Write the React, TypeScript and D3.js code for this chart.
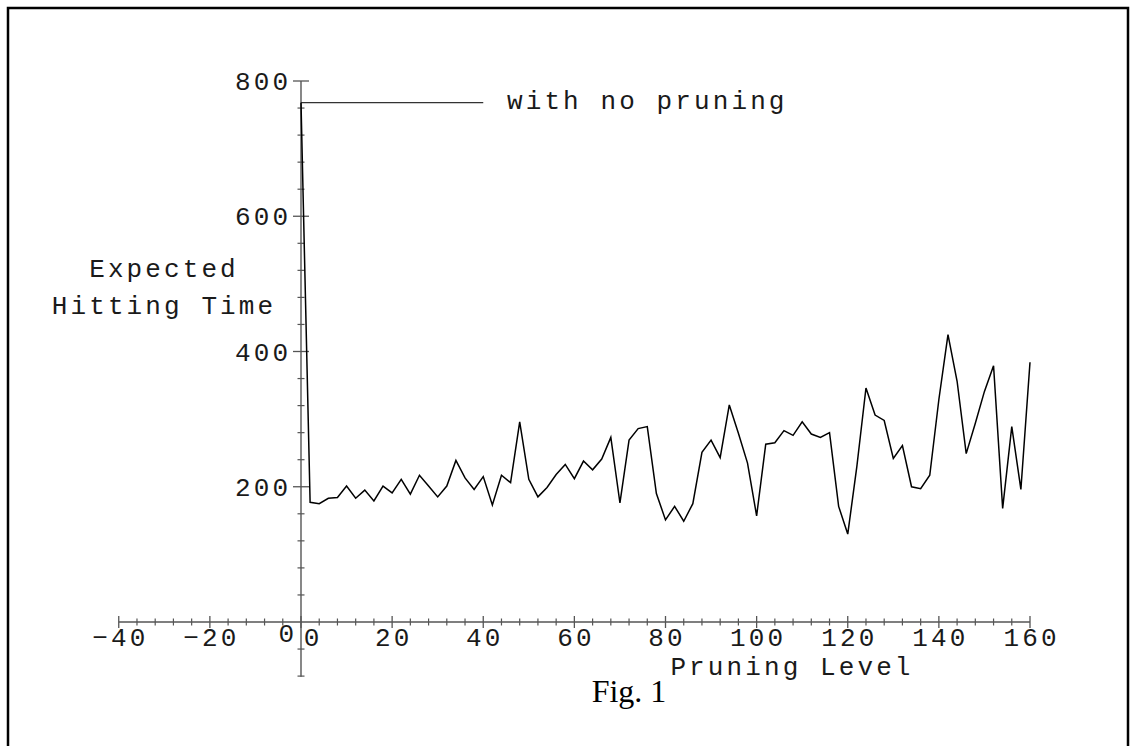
import React from "react";
import * as d3 from "d3";

const pruningLevel = [
  0, 2, 4, 6, 8, 10, 12, 14, 16, 18, 20, 22, 24, 26, 28, 30, 32, 34, 36, 38,
  40, 42, 44, 46, 48, 50, 52, 54, 56, 58, 60, 62, 64, 66, 68, 70, 72, 74, 76, 78,
  80, 82, 84, 86, 88, 90, 92, 94, 96, 98, 100, 102, 104, 106, 108, 110, 112, 114, 116, 118,
  120, 122, 124, 126, 128, 130, 132, 134, 136, 138, 140, 142, 144, 146, 148, 150, 152, 154, 156, 158, 160,
];
const hittingTime = [
  768, 177, 175, 183, 184, 201, 183, 195, 179, 201, 191, 211, 189, 217, 201, 185, 201, 239, 213, 196,
  215, 173, 217, 206, 296, 211, 185, 199, 218, 233, 212, 238, 225, 241, 273, 176, 269, 286, 289, 190,
  151, 171, 149, 175, 251, 269, 243, 321, 279, 235, 157, 263, 265, 283, 276, 296, 278, 273, 280, 171,
  130, 230, 346, 306, 298, 242, 261, 200, 197, 217, 329, 425, 356, 249, 294, 341, 379, 168, 289, 196, 384,
];
const xTickLabels = ["−40", "−20", "0", "20", "40", "60", "80", "100", "120", "140", "160"];
const xTickValues = [-40, -20, 0, 20, 40, 60, 80, 100, 120, 140, 160];
const yTickLabels = ["200", "400", "600", "800"];
const yTickValues = [200, 400, 600, 800];
const annotationText = "with no pruning";
const annotationValue = 768;
const annotationEnd = 40;

export default function App() {
  const W = 1136, H = 746;
  const x = d3.scaleLinear().domain([0, 160]).range([301, 1030]);
  const y = d3.scaleLinear().domain([0, 800]).range([622, 81]);
  const axisColor = "#555";
  const mono = "'Liberation Mono', 'DejaVu Sans Mono', monospace";
  const fontSize = 26;
  const ls = 3.1;
  const textColor = "#1a1a1a";

  const line = d3
    .line<number>()
    .x((_, i) => x(pruningLevel[i]))
    .y((d) => y(d));

  const xMinor = d3.range(-40, 161, 4).filter((v) => v % 20 !== 0);
  const yMinor = d3.range(-80, 801, 40).filter((v) => v % 200 !== 0 || v < 0);

  return (
    <svg
      width={W}
      height={H}
      style={{ position: "absolute", left: 0, top: 0, background: "#fff" }}
    >
      <rect x={0} y={0} width={W} height={H} fill="#fff" />
      <path
        d={`M8,${H + 5} L8,8 L1128,8 L1128,${H + 5}`}
        fill="none"
        stroke="#000"
        strokeWidth={2.5}
      />
      {/* axes */}
      <line x1={x(-40)} x2={x(160)} y1={y(0)} y2={y(0)} stroke={axisColor} strokeWidth={1.4} />
      <line x1={x(0)} x2={x(0)} y1={y(-81)} y2={y(800)} stroke={axisColor} strokeWidth={1.4} />
      {xTickValues.map((v) => (
        <line key={"xM" + v} x1={x(v)} x2={x(v)} y1={y(0) - 6} y2={y(0) + 6} stroke={axisColor} strokeWidth={1.3} />
      ))}
      {xMinor.map((v) => (
        <line key={"xm" + v} x1={x(v)} x2={x(v)} y1={y(0) - 3.5} y2={y(0) + 3.5} stroke={axisColor} strokeWidth={1.2} />
      ))}
      {yTickValues.map((v) => (
        <line key={"yM" + v} x1={x(0) - 8} x2={x(0) + 8} y1={y(v)} y2={y(v)} stroke={axisColor} strokeWidth={1.3} />
      ))}
      {yMinor.map((v) => (
        <line key={"ym" + v} x1={x(0) - 3.5} x2={x(0) + 3.5} y1={y(v)} y2={y(v)} stroke={axisColor} strokeWidth={1.2} />
      ))}
      {/* tick labels */}
      {xTickValues.map((v, i) => (
        <text
          key={"xl" + v}
          x={v === 0 ? x(v) + 12 : x(v) + ls / 2}
          y={y(0) + 24}
          textAnchor="middle"
          fontFamily={mono}
          fontSize={fontSize}
          letterSpacing={ls}
          fill={textColor}
        >
          {xTickLabels[i]}
        </text>
      ))}
      <text x={x(0) - 7} y={y(0) + 20} textAnchor="end" fontFamily={mono} fontSize={fontSize} fill={textColor}>
        0
      </text>
      {yTickValues.map((v, i) => (
        <text
          key={"yl" + v}
          x={288 + ls}
          y={y(v) + 9}
          textAnchor="end"
          fontFamily={mono}
          fontSize={fontSize}
          letterSpacing={ls}
          fill={textColor}
        >
          {yTickLabels[i]}
        </text>
      ))}
      {/* axis titles */}
      <text x={164} y={277} textAnchor="middle" fontFamily={mono} fontSize={fontSize} letterSpacing={ls} fill={textColor}>
        Expected
      </text>
      <text x={164} y={314} textAnchor="middle" fontFamily={mono} fontSize={fontSize} letterSpacing={ls} fill={textColor}>
        Hitting Time
      </text>
      <text x={792} y={675} textAnchor="middle" fontFamily={mono} fontSize={fontSize} letterSpacing={ls} fill={textColor}>
        Pruning Level
      </text>
      {/* annotation */}
      <line
        x1={x(0)}
        x2={x(annotationEnd)}
        y1={y(annotationValue)}
        y2={y(annotationValue)}
        stroke="#333"
        strokeWidth={1.2}
      />
      <text x={507} y={y(annotationValue) + 6} fontFamily={mono} fontSize={fontSize} letterSpacing={ls} fill={textColor}>
        {annotationText}
      </text>
      {/* data */}
      <path d={line(hittingTime) || ""} fill="none" stroke="#000" strokeWidth={1.5} strokeLinejoin="miter" />
      {/* caption */}
      <text x={629} y={702} textAnchor="middle" fontFamily="'Liberation Serif', 'Times New Roman', serif" fontSize={32} fill="#000">
        Fig. 1
      </text>
    </svg>
  );
}
